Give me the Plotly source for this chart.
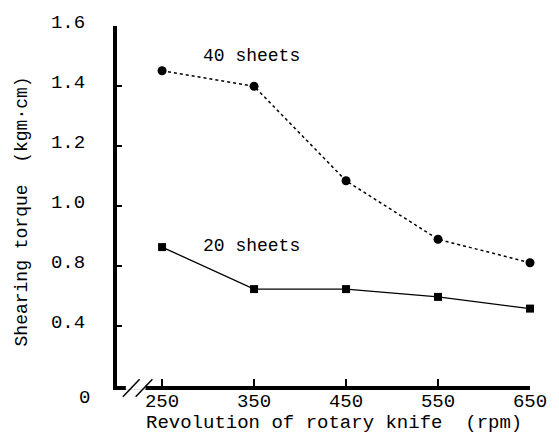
import plotly.graph_objects as go

rpm = [250, 350, 450, 550, 650]
torque_40 = [1.451, 1.399, 1.084, 0.889, 0.811]
torque_20 = [0.863, 0.723, 0.723, 0.697, 0.658]

x_ticks = [250, 350, 450, 550, 650]
y_tickvals = [0.6, 0.8, 1.0, 1.2, 1.4, 1.6]
y_ticktext = ["0.4", "0.8", "1.0", "1.2", "1.4", "1.6"]

FONT = "Liberation Mono"
W, H = 559, 445
L, R, T, B = 117, 22, 16, 59
PW, PH = W - L - R, H - T - B


def px(x):
    return (x - L) / PW


def py(y):
    return (H - B - y) / PH


fig = go.Figure()
fig.add_trace(go.Scatter(
    x=rpm, y=torque_40, mode="lines+markers", name="40 sheets",
    line=dict(color="black", width=1.5, dash="dot"),
    marker=dict(symbol="circle", size=9, color="black"),
    cliponaxis=False,
))
fig.add_trace(go.Scatter(
    x=rpm, y=torque_20, mode="lines+markers", name="20 sheets",
    line=dict(color="black", width=1.3),
    marker=dict(symbol="square", size=8, color="black"),
    cliponaxis=False,
))

fig.update_layout(
    width=W, height=H,
    margin=dict(l=L, r=R, t=T, b=B),
    paper_bgcolor="white", plot_bgcolor="white",
    showlegend=False,
    font=dict(family=FONT, size=19, color="black"),
    xaxis=dict(
        range=[201, 650], tickvals=x_ticks, ticks="inside", ticklen=7,
        tickwidth=2, tickcolor="black", showline=True, linewidth=4,
        linecolor="black", showgrid=False, zeroline=False,
        ticklabelstandoff=-6,
        tickfont=dict(family=FONT, size=19),
    ),
    yaxis=dict(
        range=[0.4, 1.6], tickvals=y_tickvals, ticktext=y_ticktext,
        ticks="inside", ticklen=5, tickwidth=2, tickcolor="black",
        showline=True, linewidth=4, linecolor="black", showgrid=False,
        zeroline=False, ticklabelstandoff=24, ticklabelshift=-5,
        tickfont=dict(family=FONT, size=19),
    ),
    annotations=[
        dict(x=px(92), y=py(398), xref="paper", yref="paper", text="0",
             showarrow=False, xanchor="right", yanchor="middle",
             font=dict(size=19)),
        dict(x=px(338), y=py(424), xref="paper", yref="paper",
             text="Revolution of rotary knife  (rpm)", showarrow=False,
             xanchor="center", yanchor="middle", font=dict(size=19)),
        dict(x=px(20), y=py(207), xref="paper", yref="paper",
             text="Shearing torque  (kgm·cm)", showarrow=False, textangle=-90,
             xanchor="center", yanchor="middle", font=dict(size=18)),
        dict(x=px(202), y=py(47), xref="paper", yref="paper",
             text="40 sheets", showarrow=False, xanchor="left",
             yanchor="middle", font=dict(size=18)),
        dict(x=px(202), y=py(242), xref="paper", yref="paper",
             text="20 sheets", showarrow=False, xanchor="left",
             yanchor="middle", font=dict(size=18)),
    ],
    shapes=[
        dict(type="rect", xref="paper", yref="paper", layer="above",
             x0=px(126), x1=px(146), y0=py(383), y1=py(390),
             fillcolor="white", line=dict(width=0)),
        dict(type="line", xref="paper", yref="paper", layer="above",
             x0=px(123), y0=py(397), x1=px(140), y1=py(379),
             line=dict(color="black", width=1.5)),
        dict(type="line", xref="paper", yref="paper", layer="above",
             x0=px(136), y0=py(397), x1=px(153), y1=py(379),
             line=dict(color="black", width=1.5)),
    ],
)

fig.write_html("out.html")
